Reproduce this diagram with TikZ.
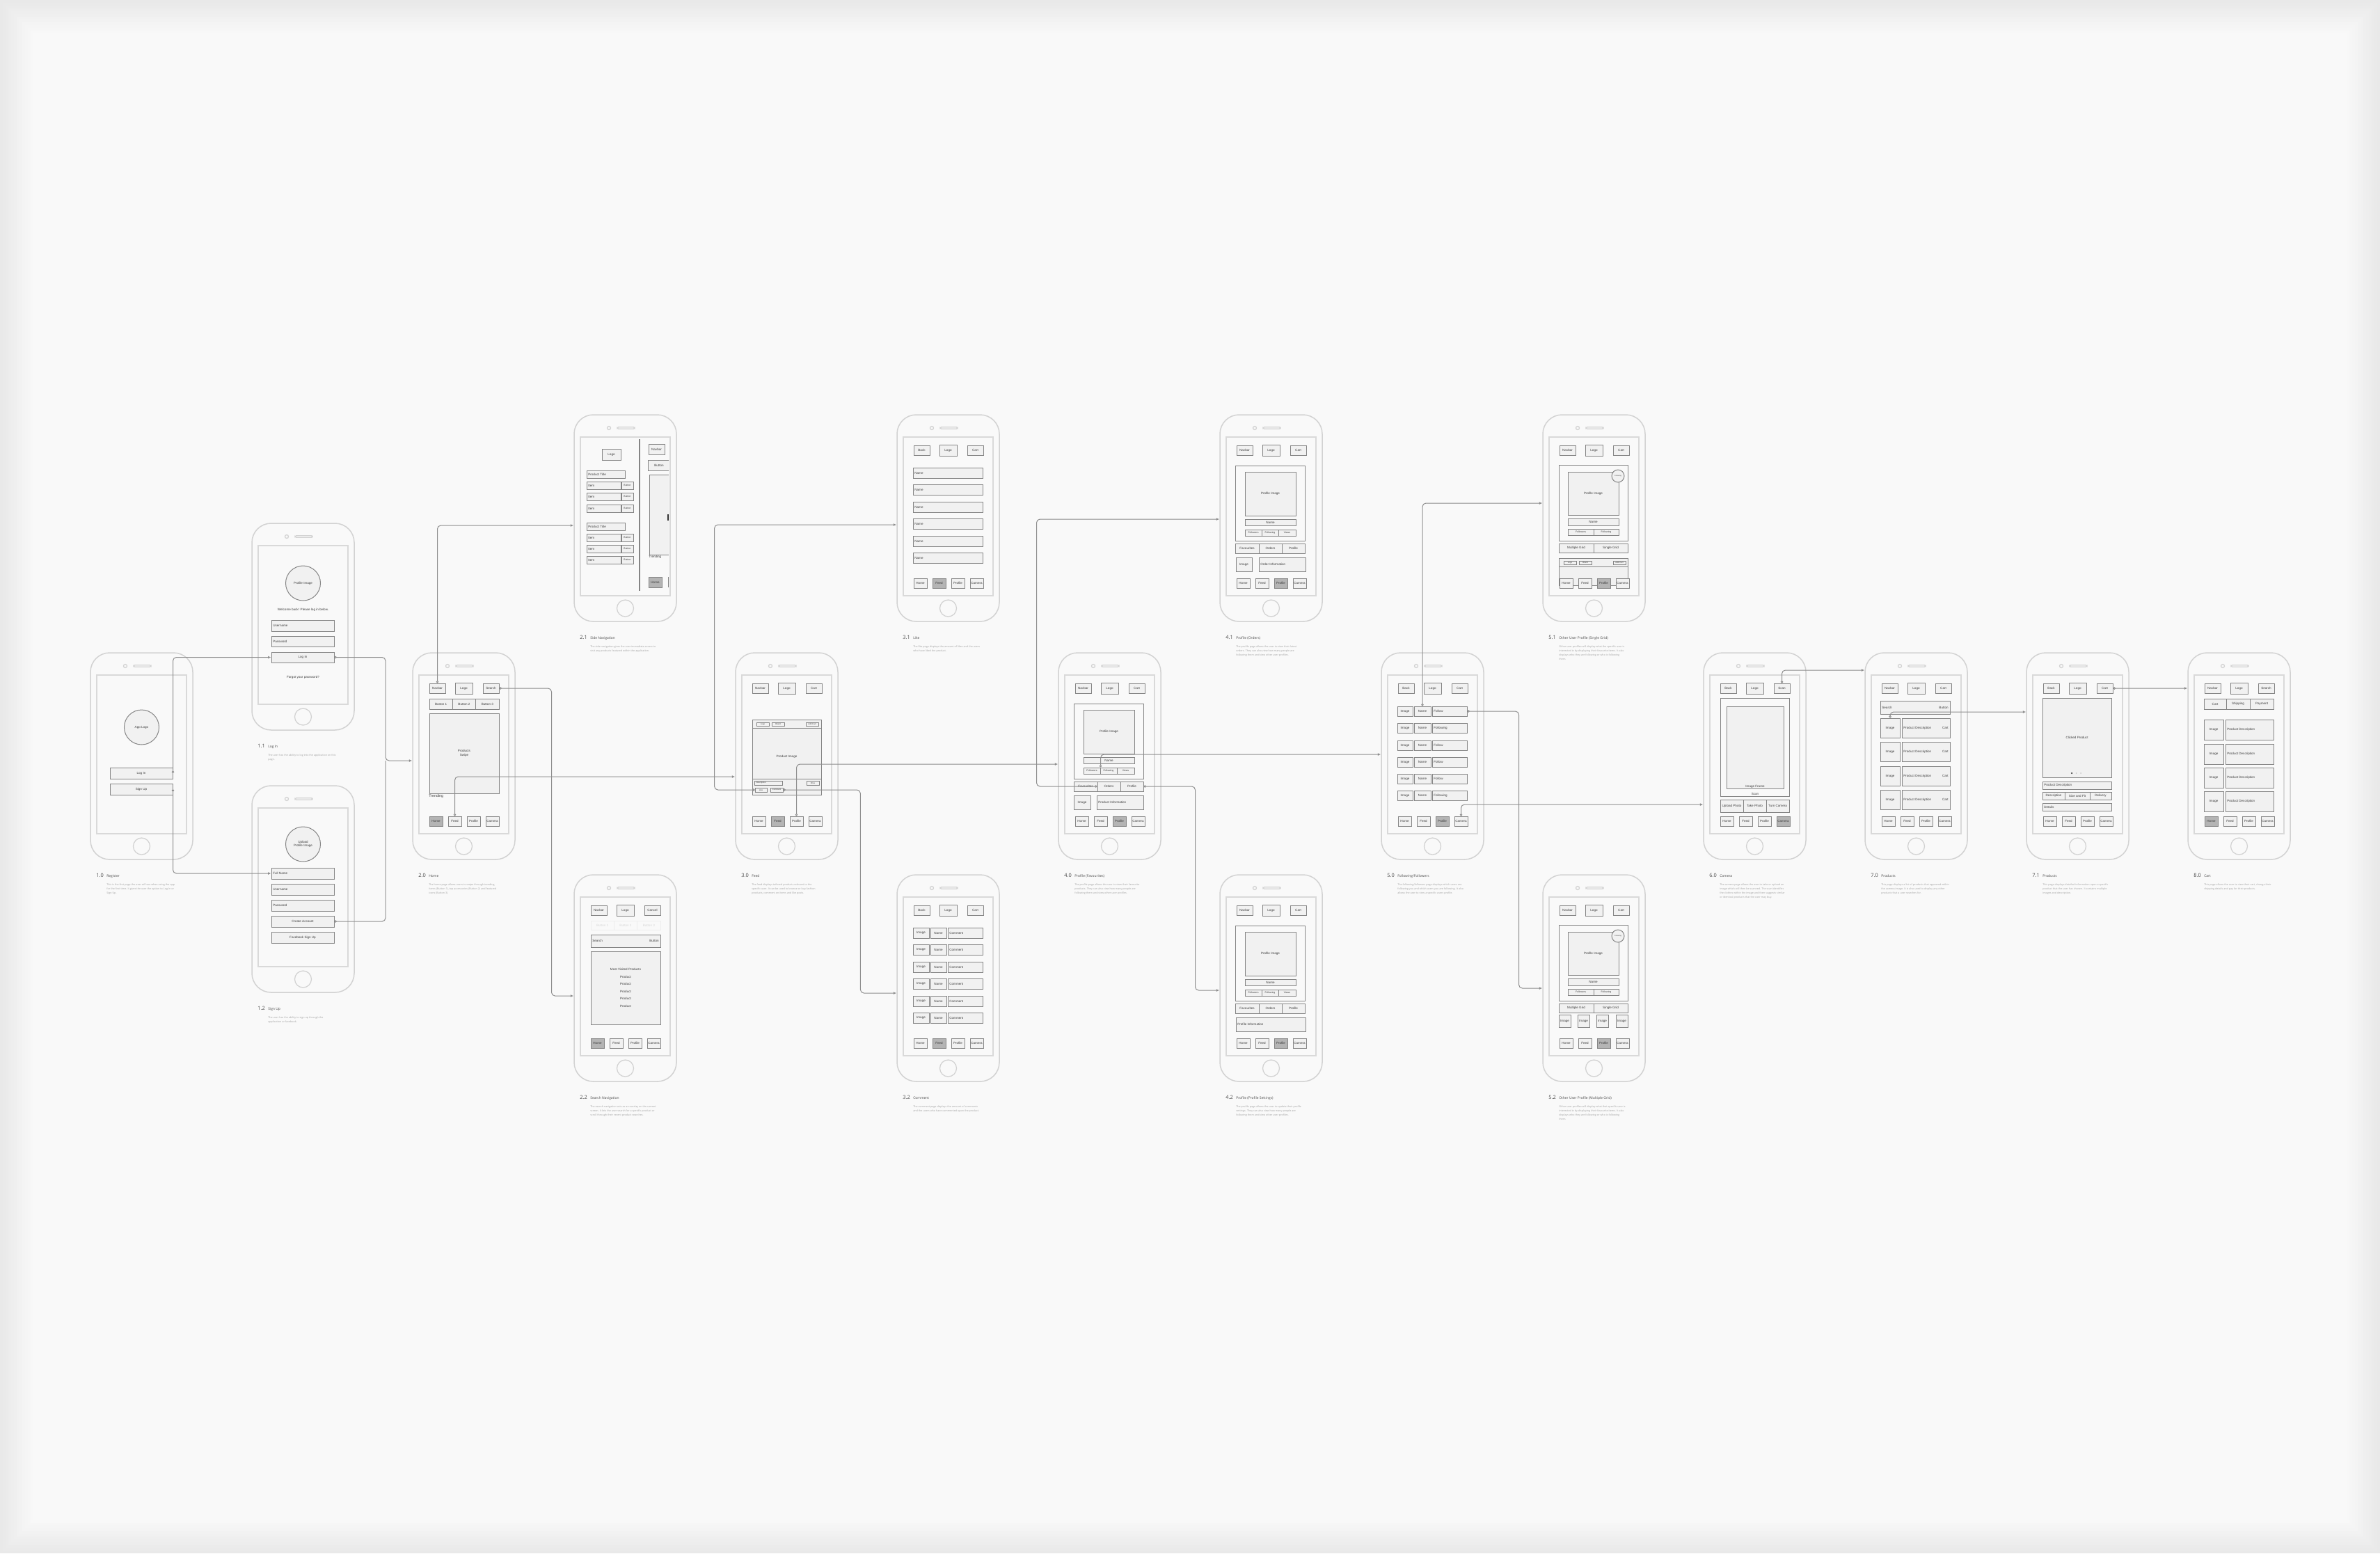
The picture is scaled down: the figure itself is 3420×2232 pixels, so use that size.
\documentclass[tikz,border=0pt]{standalone}
\usepackage{fontspec}
\setmainfont{Liberation Sans}
\newfontfamily\headfont{Open Sans}
\usetikzlibrary{arrows.meta}

\definecolor{bgc}{HTML}{F9F9F9}
\definecolor{shellc}{HTML}{D2D2D2}
\definecolor{boxc}{HTML}{858585}
\definecolor{boxfill}{HTML}{F1F1F1}
\definecolor{selfill}{HTML}{B4B4B4}
\definecolor{flowc}{HTML}{8E8E8E}
\definecolor{txtc}{HTML}{3C3C3C}
\definecolor{headc}{HTML}{484848}
\definecolor{descc}{HTML}{A4A4A4}

\newcommand\uifont{\fontsize{2.6}{3.1}\selectfont}
\newcommand\minifont{\fontsize{1.6}{2}\selectfont}

\tikzset{
  phone/.style={draw=shellc,line width=0.3mm,rounded corners=5.5mm,minimum width=29.4mm,minimum height=59.4mm,inner sep=0pt},
  shell/.style={draw=shellc,line width=0.25mm},
  screen/.style={draw=shellc!85,line width=0.25mm},
  uibox/.style={draw=boxc,fill=boxfill,line width=0.2mm,inner sep=0pt,font=\uifont,text=txtc,align=center},
  nofill/.style={fill=none},
  sel/.style={fill=selfill},
  mini/.style={font=\minifont,line width=0.15mm},
  smallfont/.style={font=\fontsize{2}{2.4}\selectfont},
  faded/.style={draw=boxc!15,fill=none,text=txtc!20},
  avatar/.style={circle,draw=boxc,fill=boxfill,line width=0.2mm,minimum size=10mm,inner sep=0pt,font=\uifont,text=txtc,align=center},
  uitext/.style={inner sep=0pt,font=\uifont,text=txtc,align=center},
  headnum/.style={inner sep=0pt,font=\headfont\fontsize{4.2}{4.2}\selectfont,text=headc},
  headtitle/.style={inner sep=0pt,font=\headfont\fontsize{2.8}{3}\selectfont,text=headc},
  desc/.style={inner sep=0pt,font=\headfont\fontsize{2.1}{3.45}\selectfont,text=descc,align=left},
  link/.style={draw=flowc,line width=0.2mm,rounded corners=1mm,{Circle[open,length=0.7mm]}-},
  flow/.style={draw=flowc,line width=0.2mm,rounded corners=1mm,{Circle[open,length=0.7mm]}-{Latex[length=0.9mm,width=0.8mm]}},
}

% box from corner (x1,y1) to (x2,y2)
\newcommand\ui[7][]{\node[uibox,#1,minimum width={(#5-#3)*0.2mm},minimum height={(#6-#4)*0.2mm}] (#2) at ({(#3+#5)/2},{(#4+#6)/2}) {#7};}
\newcommand\uil[7][]{\ui[#1]{#2}{#3}{#4}{#5}{#6}{}\node[uitext,#1,anchor=west] (#2-t) at ([xshift=0.5mm]#2.west) {#7};}
\newcommand\uilr[7]{\ui{#1}{#2}{#3}{#4}{#5}{}\node[uitext,anchor=west] (#1-a) at ([xshift=0.5mm]#1.west) {#6};\node[uitext,anchor=east] (#1-b) at ([xshift=-0.5mm]#1.east) {#7};}

\newcommand\phone[3]{%
  \node[phone] (#1) at ({#2+73.5},{#3+148.5}) {};
  \draw[screen] ({#2+9},{#3+32}) rectangle ({#2+138},{#3+260});
  \draw[shell] ({#2+50},{#3+19}) circle (0.5mm);
  \draw[shell,rounded corners=0.3mm] ({#2+62},{#3+17.8}) rectangle ({#2+87},{#3+20.2});
  \draw[shell] ({#2+73.5},{#3+278}) circle (2.4mm);}

\newcommand\topnav[3]{%
  \ui{#1left}{24}{44}{47}{58}{#2}
  \ui{#1logo}{61}{43}{86}{59}{Logo}
  \ui{#1right}{101}{44}{124}{58}{#3}}

\newcommand\botnav[2]{%
  \foreach \t [count=\i] in {Home,Feed,Profile,Camera}{%
    \pgfmathsetmacro\xa{24+(\i-1)*27}%
    \ifnum\i=#2\relax\ui[sel]{#1\t}{\xa}{235}{\xa+19}{249}{\t}\else\ui{#1\t}{\xa}{235}{\xa+19}{249}{\t}\fi}}

\newcommand\profcard[1]{%
  \ui[nofill]{#1card}{22}{73}{122}{181}{}
  \ui{#1img}{36}{82}{109}{145}{Profile Image}
  \ui{#1name}{36}{150}{109}{159}{Name}
  \ui[smallfont]{#1followers}{36}{165}{60}{174}{Followers}
  \ui[smallfont]{#1following}{60}{165}{84}{174}{Following}
  \ui[smallfont]{#1views}{84}{165}{109}{174}{Views}
  \ui{#1fav}{22}{185}{56}{199}{Favourites}
  \ui{#1orders}{56}{185}{89}{199}{Orders}
  \ui{#1prof}{89}{185}{122}{199}{Profile}}

\newcommand\usercard[1]{%
  \ui[nofill]{#1card}{23}{72}{122}{181}{}
  \ui{#1img}{36}{82}{109}{144}{Profile Image}
  \node[avatar,minimum size=3.6mm,font=\fontsize{1.3}{1.5}\selectfont] (#1badge) at (108,88) {Following};
  \ui{#1name}{36}{149}{109}{159}{Name}
  \ui[smallfont]{#1followers}{36}{164}{73}{173}{Followers}
  \ui[smallfont]{#1following}{73}{164}{109}{173}{Following}
  \ui{#1multi}{23}{185}{73}{198}{Multiple Grid}
  \ui{#1single}{73}{185}{122}{198}{Single Grid}}

\newcommand\screentitle[6]{%
  \node[headnum,anchor=base west] (#1) at ({#2+8},{#3+322}) {#4};
  \node[headtitle,anchor=base west] (#1t) at ({#2+23},{#3+322}) {#5};
  \node[desc,anchor=north west] (#1d) at ({#2+23},{#3+331}) {#6};}

\begin{document}
\begin{tikzpicture}[x=0.2mm,y=-0.2mm]
\useasboundingbox (0,0) rectangle (3420,2232);
\fill[bgc] (0,0) rectangle (3420,2232);
\foreach \i in {0,...,11}{\pgfmathsetmacro\dk{0.55*(12-\i)}
  \draw[draw=black!\dk!bgc,line width=0.8mm] ({2+\i*4},{2+\i*4}) rectangle ({3418-\i*4},{2230-\i*4});}

% 1.0 register
\phone{ph10}{130}{938}
\begin{scope}[shift={(130,938)}]
  \node[avatar] (r10logo) at (73.5,107) {App Logo};
  \ui{r10login}{28}{165}{118}{181}{Log In}
  \ui{r10signup}{28}{188}{118}{204}{Sign Up}
\end{scope}
\screentitle{t10}{130}{938}{1.0}{Register}{This is the first page the user will see when using the app\\for the first time. It gives the user the option to Log In or\\Sign Up.}

% 1.1 log in
\phone{ph11}{362}{752}
\begin{scope}[shift={(362,752)}]
  \node[avatar] (l11img) at (73.5,86) {Profile Image};
  \node[uitext] (l11welcome) at (73.5,124) {Welcome back! Please log in below.};
  \uil{l11user}{28}{139}{118}{155}{Username}
  \uil{l11pass}{28}{162}{118}{177}{Password}
  \ui{l11login}{28}{185}{118}{200}{Log In}
  \node[uitext] (l11forgot) at (73.5,221) {Forgot your password?};
\end{scope}
\screentitle{t11}{362}{752}{1.1}{Log In}{The user has the ability to log into the application on this\\page.}

% 1.2 sign up
\phone{ph12}{362}{1129}
\begin{scope}[shift={(362,1129)}]
  \node[avatar] (s12img) at (73.5,84) {Upload\\Profile Image};
  \uil{s12name}{28}{118}{118}{134}{Full Name}
  \uil{s12user}{28}{141}{118}{157}{Username}
  \uil{s12pass}{28}{164}{118}{180}{Password}
  \ui{s12create}{28}{187}{118}{203}{Create Account}
  \ui{s12fb}{28}{210}{118}{226}{Facebook Sign Up}
\end{scope}
\screentitle{t12}{362}{1129}{1.2}{Sign Up}{The user has the ability to sign up through the\\application or facebook.}

% 2.0 home
\phone{ph20}{593}{938}
\begin{scope}[shift={(593,938)}]
  \topnav{h20}{Navbar}{Search}
  \ui{h20b1}{24}{66}{57.3}{81}{Button 1}
  \ui{h20b2}{57.3}{66}{90.7}{81}{Button 2}
  \ui{h20b3}{90.7}{66}{124}{81}{Button 3}
  \ui{h20swipe}{24}{87}{124}{202}{Products\\Swipe}
  \node[uitext,anchor=west,font=\fontsize{3}{3.4}\selectfont] (h20trend) at (23,206) {Trending};
  \botnav{h20}{1}
\end{scope}
\screentitle{t20}{593}{938}{2.0}{Home}{The home page allows users to swipe through trending\\items (Button 1), top accessories (Button 2) and featured\\icons (Button 3).}

% 2.1 side navigation
\phone{ph21}{825}{596}
\begin{scope}[shift={(825,596)}]
  \draw[boxc,line width=0.25mm] (94,35) -- (94,253);
  \ui{n21logo}{40}{49}{67}{65}{Logo}
  \uil{n21title1}{18}{80}{73}{91}{Product Title}
  \foreach \y [count=\i] in {96,112,129}{\uil{n21a\i}{18}{\y}{67}{\y+11}{Item}\ui[smallfont]{n21b\i}{68}{\y}{85}{\y+11}{Button}}
  \uil{n21title2}{18}{155}{73}{166}{Product Title}
  \foreach \y [count=\i] in {171,187,203}{\uil{n21c\i}{18}{\y}{67}{\y+11}{Item}\ui[smallfont]{n21d\i}{68}{\y}{85}{\y+11}{Button}}
  \ui{n21nav}{107}{42}{130}{57}{Navbar}
  \fill[boxfill] (136,65) rectangle (106,80);
  \draw[boxc,line width=0.2mm] (136,65) -- (106,65) -- (106,80) -- (136,80);
  \node[uitext] (n21btn) at (122,72.5) {Button};
  \fill[boxfill] (136,86) rectangle (108,201);
  \draw[boxc,line width=0.2mm] (136,86) -- (108,86) -- (108,201) -- (136,201);
  \draw[black!80,line width=0.35mm] (135,143) -- (135,152);
  \node[uitext,anchor=west] (n21trend) at (107,204) {Trending};
  \ui[sel]{n21home}{107}{233}{126}{248}{Home}
  \draw[boxc,line width=0.2mm] (135,233) -- (135,248);
\end{scope}
\screentitle{t21}{825}{596}{2.1}{Side Navigation}{The side navigation gives the user immediate access to\\visit any products featured within the application.}

% 2.2 search navigation
\phone{ph22}{825}{1257}
\begin{scope}[shift={(825,1257)}]
  \topnav{n22}{Navbar}{Cancel}
  \ui[faded]{n22f1}{24}{66}{57.3}{79}{Button 1}
  \ui[faded]{n22f2}{57.3}{66}{90.7}{79}{Button 2}
  \ui[faded]{n22f3}{90.7}{66}{124}{79}{Button 3}
  \uilr{n22search}{24}{86}{124}{104}{Search}{Button}
  \ui[font=\fontsize{2.6}{6}\selectfont]{n22list}{24}{110}{124}{215}{Most Visited Products\\Product\\Product\\Product\\Product\\Product}
  \botnav{n22}{1}
\end{scope}
\screentitle{t22}{825}{1257}{2.2}{Search Navigation}{The search navigation acts as an overlay on the current\\screen. It lets the user search for a specific product or\\scroll through their recent product searches.}

% 3.0 feed
\phone{ph30}{1057}{938}
\begin{scope}[shift={(1057,938)}]
  \topnav{f30}{Navbar}{Cart}
  \ui{f30card}{24}{96}{123}{204}{}
  \draw[boxc,line width=0.2mm] (24,108) -- (123,108) (24,181) -- (123,181);
  \ui[mini]{f30logo2}{30}{100}{48}{105}{Logo}
  \ui[mini]{f30brand}{52}{100}{70}{105}{Brand}
  \ui[mini]{f30add}{101}{100}{119}{105}{Add Cart}
  \node[uitext] (f30img) at (73.5,149) {Product Image};
  \uil[mini]{f30desc}{27}{184}{67}{190}{Description}
  \ui[mini]{f30price}{102}{184}{120}{190}{Price}
  \ui[mini]{f30like}{28}{194}{45}{200}{Like}
  \ui[mini]{f30comment}{50}{194}{68}{200}{Comment}
  \botnav{f30}{2}
\end{scope}
\screentitle{t30}{1057}{938}{3.0}{Feed}{The feed displays tailored products relevant to the\\specific user. It can be used to browse or buy fashion\\products, comment on items and like posts.}

% 3.1 like
\phone{ph31}{1289}{596}
\begin{scope}[shift={(1289,596)}]
  \topnav{l31}{Back}{Cart}
  \foreach \y [count=\i] in {76,100,125,149,174,198}{\uil{l31n\i}{23}{\y}{123}{\y+15}{Name}}
  \botnav{l31}{2}
\end{scope}
\screentitle{t31}{1289}{596}{3.1}{Like}{The like page displays the amount of likes and the users\\who have liked the product.}

% 3.2 comment
\phone{ph32}{1289}{1257}
\begin{scope}[shift={(1289,1257)}]
  \topnav{c32}{Back}{Cart}
  \foreach \y [count=\i] in {76,100,125,149,174,198}{\ui{c32i\i}{23}{\y}{46}{\y+15}{Image}\ui{c32n\i}{48}{\y}{71}{\y+15}{Name}\uil{c32c\i}{73}{\y}{123}{\y+15}{Comment}}
  \botnav{c32}{2}
\end{scope}
\screentitle{t32}{1289}{1257}{3.2}{Comment}{The comment page displays the amount of comments\\and the users who have commented upon the product.}

% 4.0 profile favourites
\phone{ph40}{1521}{938}
\begin{scope}[shift={(1521,938)}]
  \topnav{o40}{Navbar}{Cart}
  \profcard{o40}
  \ui{o40image}{22}{205}{46}{225}{Image}
  \uil{o40info}{55}{205}{122}{225}{Product Information}
  \botnav{o40}{3}
\end{scope}
\screentitle{t40}{1521}{938}{4.0}{Profile (Favourites)}{The profile page allows the user to view their favourite\\products. They can also view how many people are\\following them and view other user profiles.}

% 4.1 profile orders
\phone{ph41}{1753}{596}
\begin{scope}[shift={(1753,596)}]
  \topnav{o41}{Navbar}{Cart}
  \profcard{o41}
  \ui{o41image}{23}{205}{46}{225}{Image}
  \uil{o41info}{56}{205}{123}{225}{Order Information}
  \botnav{o41}{3}
\end{scope}
\screentitle{t41}{1753}{596}{4.1}{Profile (Orders)}{The profile page allows the user to view their latest\\orders. They can also view how many people are\\following them and view other user profiles.}

% 4.2 profile settings
\phone{ph42}{1753}{1257}
\begin{scope}[shift={(1753,1257)}]
  \topnav{o42}{Navbar}{Cart}
  \profcard{o42}
  \uil{o42info}{23}{205}{123}{225}{Profile Information}
  \botnav{o42}{3}
\end{scope}
\screentitle{t42}{1753}{1257}{4.2}{Profile (Profile Settings)}{The profile page allows the user to update their profile\\settings. They can also view how many people are\\following them and view other user profiles.}

% 5.0 following/followers
\phone{ph50}{1985}{938}
\begin{scope}[shift={(1985,938)}]
  \topnav{f50}{Back}{Cart}
  \foreach \y/\f [count=\i] in {77/Follow,101/Following,126/Follow,150/Follow,174/Follow,198/Following}{\ui{f50i\i}{23}{\y}{45}{\y+14}{Image}\ui{f50n\i}{47}{\y}{71}{\y+14}{Name}\uil{f50f\i}{73}{\y}{123}{\y+14}{\f}}
  \botnav{f50}{3}
\end{scope}
\screentitle{t50}{1985}{938}{5.0}{Following/Followers}{The following/followers page displays which users are\\following you and which users you are following. It also\\allows the user to view a specific users profile.}

% 5.1 other user single grid
\phone{ph51}{2217}{596}
\begin{scope}[shift={(2217,596)}]
  \topnav{u51}{Navbar}{Cart}
  \usercard{u51}
  \ui{u51post}{23}{206}{122}{245}{}
  \draw[boxc,line width=0.15mm] (23,218) -- (122,218);
  \ui[mini]{u51logo2}{30}{210}{48}{215}{Logo}
  \ui[mini]{u51brand}{52}{210}{70}{215}{Brand}
  \ui[mini]{u51add}{101}{210}{119}{215}{Add Cart}
  \botnav{u51}{3}
\end{scope}
\screentitle{t51}{2217}{596}{5.1}{Other User Profile (Single Grid)}{Other user profiles will display what the specific user is\\interested in by displaying their favourite items. It also\\displays who they are following or who is following\\them.}

% 5.2 other user multiple grid
\phone{ph52}{2217}{1257}
\begin{scope}[shift={(2217,1257)}]
  \topnav{u52}{Navbar}{Cart}
  \usercard{u52}
  \foreach \x [count=\i] in {23,50,77,105}{\ui{u52g\i}{\x}{201}{\x+17}{219}{Image}}
  \botnav{u52}{3}
\end{scope}
\screentitle{t52}{2217}{1257}{5.2}{Other User Profile (Multiple Grid)}{Other user profiles will display what that specific user is\\interested in by displaying their favourite items. It also\\displays who they are following or who is following\\them.}

% 6.0 camera
\phone{ph60}{2448}{938}
\begin{scope}[shift={(2448,938)}]
  \topnav{m60}{Back}{Scan}
  \ui[nofill]{m60frame}{24}{65}{123}{206}{}
  \ui{m60img}{33}{77}{115}{195}{}
  \node[uitext] (m60imgt) at (74,192) {Image Frame};
  \node[uitext] (m60scan) at (74,202.5) {Scan};
  \ui{m60upload}{24}{211}{57}{229}{Upload Photo}
  \ui{m60take}{57}{211}{90}{229}{Take Photo}
  \ui{m60turn}{90}{211}{123}{229}{Turn Camera}
  \botnav{m60}{4}
\end{scope}
\screentitle{t60}{2448}{938}{6.0}{Camera}{The camera page allows the user to take or upload an\\image which will then be scanned. The scan identifies\\the clothes within the image and then suggests similar\\or identical products that the user may buy.}

% 7.0 products
\phone{ph70}{2680}{938}
\begin{scope}[shift={(2680,938)}]
  \topnav{g70}{Navbar}{Cart}
  \uilr{g70search}{22}{69}{122}{88}{Search}{Button}
  \foreach \y [count=\i] in {94,128,163,197}{\ui{g70i\i}{22}{\y}{50}{\y+28}{Image}\uilr{g70d\i}{53}{\y}{122}{\y+28}{Product Description}{Cart}}
  \botnav{g70}{0}
\end{scope}
\screentitle{t70}{2680}{938}{7.0}{Products}{This page displays a list of products that appeared within\\the camera image. It is also used to display any other\\products that a user searches for.}

% 7.1 product detail
\phone{ph71}{2912}{938}
\begin{scope}[shift={(2912,938)}]
  \topnav{g71}{Back}{Cart}
  \ui{g71prod}{23}{65}{122}{179}{Clicked Product}
  \fill[txtc] (65,173) circle (0.25mm);
  \fill[boxc!45] (71.5,173) circle (0.2mm) (78,173) circle (0.2mm);
  \uil{g71desc}{23}{185}{122}{196}{Product Description}
  \ui{g71tab1}{23}{200}{55}{211}{Description}
  \ui{g71tab2}{55}{200}{91}{211}{Size and Fit}
  \ui{g71tab3}{91}{200}{122}{211}{Delivery}
  \uil{g71det}{23}{216}{122}{227}{Details}
  \botnav{g71}{0}
\end{scope}
\screentitle{t71}{2912}{938}{7.1}{Products}{This page displays detailed information upon a specific\\product that the user has chosen. It contains multiple\\images and description.}

% 8.0 cart
\phone{ph80}{3144}{938}
\begin{scope}[shift={(3144,938)}]
  \topnav{k80}{Navbar}{Search}
  \ui{k80cart}{23}{66}{55}{81}{Cart}
  \ui{k80ship}{55}{66}{89}{81}{Shipping}
  \ui{k80pay}{89}{66}{123}{81}{Payment}
  \foreach \y [count=\i] in {96,131,165,199}{\ui{k80i\i}{23}{\y}{51}{\y+29}{Image}\uil{k80d\i}{54}{\y}{123}{\y+29}{Product Description}}
  \botnav{k80}{1}
\end{scope}
\screentitle{t80}{3144}{938}{8.0}{Cart}{This page allows the user to view their cart, change their\\shipping details and pay for their products.}

% connectors
\coordinate (j11) at (554,1093);
\draw[flow] (r10login.east) |- (l11login.west);
\draw[flow] (r10signup.east) |- (s12name.west);
\draw[flow] (l11login.east) -| (j11) -- ([yshift=-1.3mm]ph20.west);
\draw[link] (s12create.east) -| (j11);
\draw[flow] (h20left.north) |- ([yshift=-2.1mm]ph21.west);
\draw[flow] (h20right.east) -- ++(75,0) |- ([yshift=-5.1mm]ph22.west);
\draw[flow] (h20Feed.north) |- ([yshift=-5.9mm]ph30.west);
\draw[flow] (f30like.west) -- ++(-58,0) |- ([yshift=-1.9mm]ph31.west);
\draw[flow] (f30comment.east) -- ++(111,0) |- ([yshift=-4.3mm]ph32.west);
\draw[flow] (f30Profile.north) |- ([yshift=-2.3mm]ph40.west);
\draw[flow] (o40followers.north east) |- ([yshift=0.5mm]ph50.west);
\draw[flow] (o40orders.west) -- ++(-87,0) |- ([yshift=-0.3mm]ph41.west);
\draw[flow] (o40prof.east) -- ++(74,0) |- ([yshift=-3.5mm]ph42.west);
\draw[flow] (f50n1.north) |- ([yshift=4.3mm]ph51.west);
\draw[flow] (f50f1.east) -- ++(74,0) |- ([yshift=-2.9mm]ph52.west);
\draw[flow] (f50Camera.north) |- ([yshift=-13.9mm]ph60.west);
\draw[flow] (m60right.north) |- ([yshift=24.7mm]ph70.west);
\draw[flow] (g70i1.north) |- ([yshift=12.7mm]ph71.west);
\draw[flow] (g71right.east) -- ([yshift=19.5mm]ph80.west);
\end{tikzpicture}
\end{document}
